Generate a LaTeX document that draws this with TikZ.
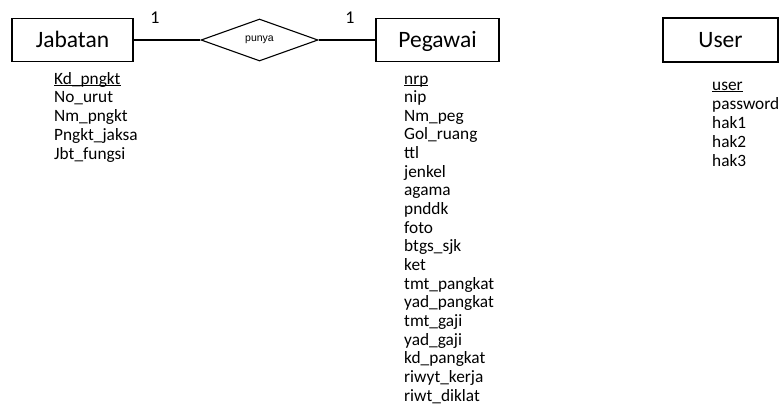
\documentclass[tikz,border=0pt]{standalone}
\usepackage{fontspec}
\setmainfont{Carlito}
\newfontfamily\arialf{Liberation Sans}
\usetikzlibrary{shapes.geometric}
\newcommand\myul[1]{\setbox0\hbox{#1}\rlap{\rule[-1.8pt]{\wd0}{0.9pt}}#1}
\begin{document}
\begin{tikzpicture}[x=1pt,y=-1pt,
  entity/.style={draw,line width=1.1pt,inner sep=0pt,text height=15.1pt,text depth=0pt,font=\fontsize{23.5}{26}\selectfont},
  relship/.style={draw,diamond,line width=1.1pt,inner sep=0pt,minimum width=117pt,minimum height=42pt,aspect=2.79,font=\arialf\fontsize{10.5}{12}\selectfont},
  attr/.style={anchor=base west,inner sep=0pt,font=\fontsize{17.3}{19}\selectfont},
  card/.style={inner sep=0pt,font=\fontsize{18}{20}\selectfont},
  conn/.style={line width=1.1pt}]
\useasboundingbox (0,0) rectangle (783,405);
\node[entity,minimum width=121pt,minimum height=43pt] (jab) at (72.5,40) {Jabatan};
\node[entity,minimum width=123pt,minimum height=43pt] (peg) at (437.5,40) {Pegawai};
\node[entity,minimum width=115pt,minimum height=44pt] (usr) at (720.5,40) {User};
\node[relship] (pun) at (259.5,40) {punya};
\draw[conn] (jab.east) -- (pun.west);
\draw[conn] (pun.east) -- (peg.west);
\node[card] (c1) at (155,17.5) {1};
\node[card] (c2) at (350,17.5) {1};
\foreach \t [count=\i] in {\myul{Kd\_pngkt},No\_urut,Nm\_pngkt,Pngkt\_jaksa,Jbt\_fungsi}
  \node[attr] (ja\i) at (54,{84+18.8*(\i-1)}) {\t};
\foreach \t [count=\i] in {\myul{nrp},nip,Nm\_peg,Gol\_ruang,ttl,jenkel,agama,pnddk,foto,btgs\_sjk,ket,tmt\_pangkat,yad\_pangkat,tmt\_gaji,yad\_gaji,kd\_pangkat,riwyt\_kerja,riwt\_diklat}
  \node[attr] (pe\i) at (404,{84+18.65*(\i-1)}) {\t};
\foreach \t [count=\i] in {\myul{user},password,hak1,hak2,hak3}
  \node[attr] (us\i) at (712,{90+19*(\i-1)}) {\t};
\end{tikzpicture}
\end{document}
